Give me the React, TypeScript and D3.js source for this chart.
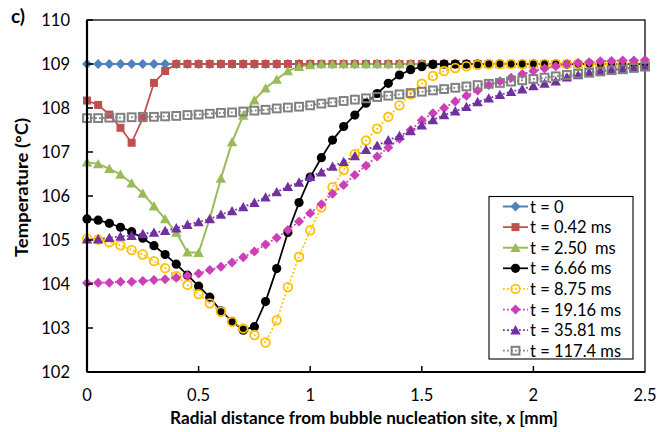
import React from "react";
import * as d3 from "d3";

// Radial positions (mm) of the computed temperature samples
const xPositions = [
  0, 0.05, 0.1, 0.15, 0.2, 0.25, 0.3, 0.35, 0.4, 0.45,
  0.5, 0.55, 0.6, 0.65, 0.7, 0.75, 0.8, 0.85, 0.9, 0.95,
  1, 1.05, 1.1, 1.15, 1.2, 1.25, 1.3, 1.35, 1.4, 1.45,
  1.5, 1.55, 1.6, 1.65, 1.7, 1.75, 1.8, 1.85, 1.9, 1.95,
  2, 2.05, 2.1, 2.15, 2.2, 2.25, 2.3, 2.35, 2.4, 2.45,
  2.5,
];

// Wall temperature (°C) at each time step
const tempT0 = [
  109, 109, 109, 109, 109, 109, 109, 109, 109, 109,
  109, 109, 109, 109, 109, 109, 109, 109, 109, 109,
  109, 109, 109, 109, 109, 109, 109, 109, 109, 109,
  109, 109, 109, 109, 109, 109, 109, 109, 109, 109,
  109, 109, 109, 109, 109, 109, 109, 109, 109, 109,
  109,
];
const tempT042 = [
  108.17, 108.07, 107.85, 107.55, 107.21, 107.77, 108.57, 108.84, 109, 109,
  109, 109, 109, 109, 109, 109, 109, 109, 109, 109,
  109, 109, 109, 109, 109, 109, 109, 109, 109, 109,
  109, 109, 109, 109, 109, 109, 109, 109, 109, 109,
  109, 109, 109, 109, 109, 109, 109, 109, 109, 109,
  109,
];
const tempT250 = [
  106.77, 106.73, 106.62, 106.49, 106.29, 106.06, 105.77, 105.48, 105.17, 104.72,
  104.71, 105.49, 106.4, 107.23, 107.83, 108.18, 108.45, 108.65, 108.84, 108.94,
  108.98, 109, 109, 109, 109, 109, 109, 109, 109, 109,
  109, 109, 109, 109, 109, 109, 109, 109, 109, 109,
  109, 109, 109, 109, 109, 109, 109, 109, 109, 109,
  109,
];
const tempT666 = [
  105.48, 105.45, 105.38, 105.29, 105.19, 105.04, 104.87, 104.67, 104.45, 104.2,
  103.95, 103.7, 103.39, 103.15, 102.95, 103.03, 103.6, 104.35, 105.17, 105.85,
  106.43, 106.87, 107.27, 107.58, 107.84, 108.11, 108.33, 108.56, 108.75, 108.87,
  108.94, 108.99, 109, 109, 109, 109, 109, 109, 109, 109,
  109, 109, 109, 109, 109, 109, 109, 109, 109, 109,
  109,
];
const tempT875 = [
  105.03, 105.01, 104.95, 104.88, 104.77, 104.67, 104.52, 104.36, 104.18, 103.98,
  103.77, 103.56, 103.37, 103.14, 102.99, 102.84, 102.67, 103.18, 103.93, 104.62,
  105.22, 105.74, 106.2, 106.59, 106.95, 107.26, 107.53, 107.8, 108.06, 108.31,
  108.55, 108.73, 108.84, 108.91, 108.95, 108.98, 109, 109, 109, 109,
  109, 109, 109, 109, 109, 109, 109, 109, 109, 109,
  109,
];
const tempT1916 = [
  104.02, 104.03, 104.03, 104.05, 104.05, 104.07, 104.09, 104.11, 104.14, 104.19,
  104.24, 104.32, 104.39, 104.49, 104.61, 104.74, 104.9, 105.05, 105.23, 105.42,
  105.61, 105.81, 106.05, 106.25, 106.48, 106.69, 106.9, 107.1, 107.3, 107.5,
  107.72, 107.88, 108.0, 108.15, 108.28, 108.4, 108.52, 108.61, 108.69, 108.77,
  108.84, 108.9, 108.95, 108.99, 109.02, 109.04, 109.06, 109.07, 109.08, 109.08,
  109.09,
];
const tempT3581 = [
  105.02, 105.02, 105.05, 105.08, 105.1, 105.14, 105.17, 105.21, 105.27, 105.35,
  105.41, 105.48, 105.58, 105.66, 105.75, 105.85, 105.97, 106.09, 106.21, 106.31,
  106.44, 106.54, 106.67, 106.78, 106.91, 107.05, 107.15, 107.27, 107.37, 107.48,
  107.61, 107.73, 107.84, 107.93, 108.03, 108.14, 108.22, 108.3, 108.37, 108.43,
  108.5, 108.56, 108.61, 108.7, 108.75, 108.81, 108.85, 108.87, 108.89, 108.92,
  108.94,
];
const tempT1174 = [
  107.77, 107.77, 107.78, 107.78, 107.79, 107.8, 107.8, 107.81, 107.82, 107.84,
  107.85, 107.87, 107.89, 107.9, 107.92, 107.94, 107.96, 107.99, 108.01, 108.03,
  108.06, 108.1, 108.13, 108.16, 108.19, 108.22, 108.25, 108.28, 108.31, 108.34,
  108.37, 108.4, 108.43, 108.46, 108.49, 108.52, 108.55, 108.57, 108.6, 108.63,
  108.66, 108.69, 108.72, 108.75, 108.78, 108.8, 108.83, 108.86, 108.88, 108.91,
  108.94,
];

const seriesNames = [
  "t = 0",
  "t = 0.42 ms",
  "t = 2.50  ms",
  "t = 6.66 ms",
  "t = 8.75 ms",
  "t = 19.16 ms",
  "t = 35.81 ms",
  "t = 117.4 ms",
];

const yTickValues = [102, 103, 104, 105, 106, 107, 108, 109, 110];
const xTickValues = [0, 0.5, 1, 1.5, 2, 2.5];

type Marker = "diamond" | "square" | "triangle" | "circle" | "ring" | "box";

interface SeriesStyle {
  values: number[];
  color: string;
  marker: Marker;
  dotted: boolean;
  lineWidth: number;
}

const series: SeriesStyle[] = [
  { values: tempT0, color: "#4F81BD", marker: "diamond", dotted: false, lineWidth: 2 },
  { values: tempT042, color: "#C0504D", marker: "square", dotted: false, lineWidth: 1.75 },
  { values: tempT250, color: "#9BBB59", marker: "triangle", dotted: false, lineWidth: 2 },
  { values: tempT666, color: "#000000", marker: "circle", dotted: false, lineWidth: 1.75 },
  { values: tempT875, color: "#FFC000", marker: "ring", dotted: true, lineWidth: 1.75 },
  { values: tempT1916, color: "#CC3FB8", marker: "diamond", dotted: true, lineWidth: 1.75 },
  { values: tempT3581, color: "#7030A0", marker: "triangle", dotted: true, lineWidth: 1.75 },
  { values: tempT1174, color: "#808080", marker: "box", dotted: true, lineWidth: 1.75 },
];

const W = 657;
const H = 432;
const plot = { left: 87, right: 645, top: 20, bottom: 372 };
const FONT = "Lato, 'Open Sans', sans-serif";

function MarkerShape({ kind, color }: { kind: Marker; color: string }) {
  switch (kind) {
    case "diamond":
      return <path d="M0,-5L5,0L0,5L-5,0Z" fill={color} />;
    case "square":
      return <rect x={-4} y={-4} width={8} height={8} fill={color} />;
    case "triangle":
      return <path d="M0,-5L5.2,4.3L-5.2,4.3Z" fill={color} />;
    case "circle":
      return <circle r={4.6} fill={color} />;
    case "ring":
      return <circle r={4.3} fill="none" stroke={color} strokeWidth={1.8} />;
    case "box":
      return <rect x={-3.9} y={-3.9} width={7.8} height={7.8} fill="none" stroke={color} strokeWidth={2} />;
  }
}

export default function App() {
  const x = d3.scaleLinear().domain([0, 2.5]).range([plot.left, plot.right]);
  const y = d3.scaleLinear().domain([102, 110]).range([plot.bottom, plot.top]);

  const line = d3
    .line<number>()
    .x((_, i) => x(xPositions[i]))
    .y((v) => y(v));

  const legend = { x: 489, y: 196.5, w: 144, h: 162.5, row: 20.6, first: 206.5 };

  return (
    <svg
      width={W}
      height={H}
      viewBox={`0 0 ${W} ${H}`}
      style={{ position: "absolute", left: 0, top: 0, background: "#fff" }}
      fontFamily={FONT}
    >
      <rect x={0} y={0} width={W} height={H} fill="#fff" />

      {/* plot frame */}
      <rect
        x={plot.left}
        y={plot.top}
        width={plot.right - plot.left}
        height={plot.bottom - plot.top}
        fill="none"
        stroke="#000"
        strokeWidth={1.25}
      />

      {/* series lines */}
      {series.map((s, k) => (
        <path
          key={"l" + k}
          d={line(s.values) || ""}
          fill="none"
          stroke={s.color}
          strokeWidth={s.lineWidth}
          strokeDasharray={s.dotted ? "1.8 2.2" : undefined}
          strokeLinejoin="round"
        />
      ))}

      {/* series markers, drawn in series order */}
      {series.map((s, k) => (
        <g key={"m" + k}>
          {s.values.map((v, i) => (
            <g key={i} transform={`translate(${x(xPositions[i])},${y(v)})`}>
              <MarkerShape kind={s.marker} color={s.color} />
            </g>
          ))}
        </g>
      ))}

      {/* axes */}
      <line x1={plot.left} x2={plot.left} y1={plot.top} y2={plot.bottom} stroke="#000" strokeWidth={2.2} />
      <line x1={plot.left} x2={plot.right} y1={plot.bottom} y2={plot.bottom} stroke="#000" strokeWidth={2.2} />

      {yTickValues.map((t) => (
        <g key={"yt" + t}>
          <line x1={plot.left} x2={plot.left + 6} y1={y(t)} y2={y(t)} stroke="#000" strokeWidth={1.5} />
          <text x={70} y={y(t) + 6} textAnchor="end" fontSize={16.5} fill="#000">
            {t}
          </text>
        </g>
      ))}
      {xTickValues.map((t) => (
        <g key={"xt" + t}>
          {t > 0 && t < 2.5 && (
            <line x1={x(t)} x2={x(t)} y1={plot.bottom} y2={plot.bottom - 6} stroke="#000" strokeWidth={1.5} />
          )}
          <text x={x(t)} y={401} textAnchor="middle" fontSize={16.5} fill="#000">
            {t}
          </text>
        </g>
      ))}

      {/* axis titles */}
      <text
        x={364}
        y={424}
        textAnchor="middle"
        fontSize={16.5}
        fontWeight="bold"
        textLength={388}
        lengthAdjust="spacingAndGlyphs"
      >
        Radial distance from bubble nucleation site, x [mm]
      </text>
      <text
        transform={`translate(27.5,187.5) rotate(-90)`}
        textAnchor="middle"
        fontSize={16.5}
        fontWeight="bold"
        textLength={139}
        lengthAdjust="spacingAndGlyphs"
      >
        Temperature (°C)
      </text>
      <text x={11} y={23} fontSize={19} fontWeight="bold">
        c)
      </text>

      {/* legend */}
      <rect x={legend.x} y={legend.y} width={legend.w} height={legend.h} fill="#fff" stroke="#000" strokeWidth={1.1} />
      {series.map((s, k) => {
        const cy = legend.first + k * legend.row;
        return (
          <g key={"lg" + k}>
            <line
              x1={503}
              x2={528}
              y1={cy}
              y2={cy}
              stroke={s.color}
              strokeWidth={s.lineWidth}
              strokeDasharray={s.dotted ? "1.8 2.2" : undefined}
            />
            <g transform={`translate(515.5,${cy})`}>
              <MarkerShape kind={s.marker} color={s.color} />
            </g>
            <text x={530} y={cy + 6} fontSize={16.5} fill="#000" style={{ whiteSpace: "pre" }}>
              {seriesNames[k]}
            </text>
          </g>
        );
      })}
    </svg>
  );
}
